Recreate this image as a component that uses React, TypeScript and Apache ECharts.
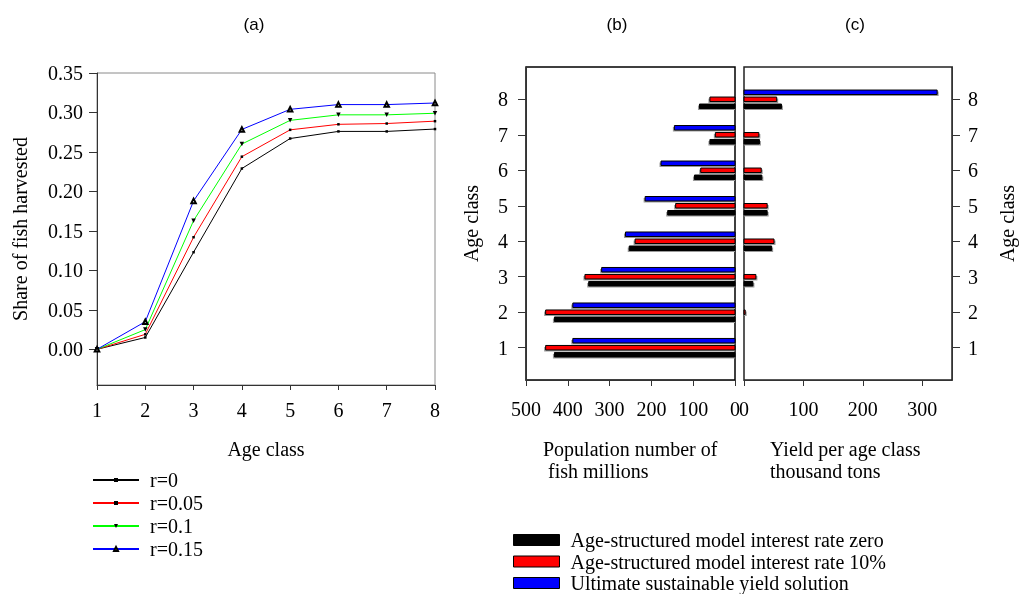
import React, { useEffect, useRef } from 'react';
import * as echarts from 'echarts';

// ---------- data ----------
const ageClasses = [1, 2, 3, 4, 5, 6, 7, 8];
const lineNames = ['r=0', 'r=0.05', 'r=0.1', 'r=0.15'];
const shareR0 = [0, 0.015, 0.123, 0.229, 0.267, 0.276, 0.276, 0.279];
const shareR005 = [0, 0.019, 0.142, 0.244, 0.278, 0.285, 0.286, 0.289];
const shareR01 = [0, 0.025, 0.163, 0.26, 0.29, 0.297, 0.297, 0.299];
const shareR015 = [0, 0.035, 0.188, 0.2785, 0.304, 0.31, 0.31, 0.312];
const shareTicks = [0, 0.05, 0.1, 0.15, 0.2, 0.25, 0.3, 0.35];

const barNames = [
  'Age-structured model interest rate zero',
  'Age-structured model interest rate 10%',
  'Ultimate sustainable yield solution',
];
// population number of fish, millions (panel b)
const popZero = [432, 432, 350, 253, 161, 97, 60, 85];
const pop10 = [453, 453, 359, 239, 142, 82, 47, 60];
const popUSY = [388, 388, 319, 262, 215, 177, 145, 0];
// yield per age class, thousand tons (panel c)
const yieldZero = [0, 0, 15, 46.5, 39, 30, 26, 63];
const yield10 = [0, 2, 20, 50.5, 39, 29, 25, 55];
const yieldUSY = [0, 0, 0, 0, 0, 0, 0, 325];
const yieldTicks = [0, 100, 200, 300];

const SERIF = 'Liberation Serif';
const SANS = 'Liberation Sans';
const AXIS = '#333';
const FRAME = '#8a8a8a';

function barRender(offset: number) {
  return (_params: any, api: any) => {
    const v = api.value(0);
    const c = api.value(1);
    if (!v) return null;
    const end = api.coord([v, c]);
    const start = api.coord([0, c]);
    const h = 4.5;
    const y = end[1] + offset - h / 2;
    const x0 = Math.min(start[0], end[0]);
    const w = Math.abs(end[0] - start[0]);
    const leftward = end[0] < start[0];
    return {
      type: 'group',
      children: [
        {
          type: 'rect',
          shape: { x: leftward ? x0 - 1.5 : x0, y: y + 1.5, width: w + 1.5, height: h },
          style: { fill: '#9a9a9a' },
        },
        {
          type: 'rect',
          shape: { x: x0, y, width: w, height: h },
          style: { fill: api.visual('color'), stroke: '#000', lineWidth: 1 },
        },
      ],
    };
  };
}

const labelStyle = { fontFamily: SERIF, fontSize: 20, color: '#000' };
const titleStyle = { fontFamily: SANS, fontSize: 17, fontWeight: 'normal', color: '#000' };

export default function App() {
  const ref = useRef<HTMLDivElement>(null);
  useEffect(() => {
    if (!ref.current) return;
    const chart = echarts.init(ref.current, undefined, { renderer: 'svg' });
    const barColors = ['#000000', '#ff0000', '#0000ff'];
    const offsets = [7, 0, -7];
    const popSets = [popZero, pop10, popUSY];
    const yieldSets = [yieldZero, yield10, yieldUSY];
    const barSeries: any[] = [];
    for (let s = 0; s < 3; s++) {
      barSeries.push({
        type: 'custom',
        name: barNames[s],
        xAxisIndex: 1,
        yAxisIndex: 1,
        itemStyle: { color: barColors[s] },
        renderItem: barRender(offsets[s]),
        encode: { x: 0, y: 1 },
        data: ageClasses.map((a, i) => [popSets[s][i], a]),
      });
      barSeries.push({
        type: 'custom',
        name: barNames[s],
        xAxisIndex: 2,
        yAxisIndex: 2,
        itemStyle: { color: barColors[s] },
        renderItem: barRender(offsets[s]),
        encode: { x: 0, y: 1 },
        data: ageClasses.map((a, i) => [yieldSets[s][i], a]),
      });
    }
    const lineColors = ['#000000', '#ff0000', '#00ff00', '#0000ff'];
    const lineSets = [shareR0, shareR005, shareR01, shareR015];
    const symbols = ['rect', 'rect', 'triangle', 'emptyTriangle'];
    const symbolSizes = [2.5, 2.5, 4.5, 4.5];
    const lineSeries = lineSets.map((arr, k) => ({
      type: 'line',
      name: lineNames[k],
      xAxisIndex: 0,
      yAxisIndex: 0,
      symbol: symbols[k],
      symbolSize: symbolSizes[k],
      symbolRotate: k === 2 ? 180 : 0,
      showAllSymbol: true,
      itemStyle: { color: '#000', borderColor: '#000', borderWidth: k === 3 ? 0.8 : 0 },
      lineStyle: { color: lineColors[k], width: 1 },
      data: ageClasses.map((a, i) => [a, arr[i]]),
    }));

    const catY = {
      type: 'value',
      min: 0.09,
      max: 8.91,
      splitLine: { show: false },
    };

    chart.setOption({
      animation: false,
      title: [
        { text: '(a)', left: 254, top: 16, textAlign: 'center', padding: 0, textStyle: titleStyle },
        { text: '(b)', left: 617, top: 16, textAlign: 'center', padding: 0, textStyle: titleStyle },
        { text: '(c)', left: 855, top: 16, textAlign: 'center', padding: 0, textStyle: titleStyle },
      ],
      legend: [
        {
          data: lineNames,
          orient: 'vertical',
          left: 92,
          top: 470,
          height: 120,
          padding: 0,
          itemWidth: 46,
          itemHeight: 5,
          itemGap: 3,
          selectedMode: false,
          textStyle: { ...labelStyle, padding: [0, 0, 0, 6] },
        },
        {
          data: barNames.map((n, i) => ({
            name: n,
            icon: 'rect',
            itemStyle: { color: barColors[i], borderColor: '#000', borderWidth: 1 },
          })),
          orient: 'vertical',
          left: 513,
          top: 530,
          height: 120,
          padding: 0,
          itemWidth: 46,
          itemHeight: 11,
          itemGap: 1.5,
          selectedMode: false,
          textStyle: { ...labelStyle, padding: [0, 0, 0, 6] },
        },
      ],
      grid: [
        { left: 97, top: 73, width: 338, height: 312, show: true, borderColor: FRAME, borderWidth: 1, outerBoundsMode: 'none' },
        { left: 526, top: 67, width: 209, height: 313, show: true, borderColor: '#000', borderWidth: 1.5, outerBoundsMode: 'none' },
        { left: 744, top: 67, width: 208, height: 313, show: true, borderColor: '#222', borderWidth: 1.5, outerBoundsMode: 'none' },
      ],
      xAxis: [
        {
          gridIndex: 0,
          type: 'value',
          min: 1,
          max: 8,
          interval: 1,
          splitLine: { show: false },
          axisLine: { onZero: false, lineStyle: { color: AXIS } },
          axisTick: { length: 5, lineStyle: { color: AXIS } },
          axisLabel: { ...labelStyle, margin: 15 },
          name: 'Age class',
          nameLocation: 'middle',
          nameGap: 54,
          nameTextStyle: labelStyle,
        },
        {
          gridIndex: 1,
          type: 'value',
          inverse: true,
          min: 0,
          max: 500,
          interval: 100,
          splitLine: { show: false },
          axisLine: { onZero: false, lineStyle: { color: AXIS } },
          axisTick: { length: 6, lineStyle: { color: AXIS } },
          axisLabel: { ...labelStyle, margin: 19 },
        },
        {
          gridIndex: 2,
          type: 'value',
          min: 0,
          max: 350,
          splitLine: { show: false },
          axisLine: { onZero: false, lineStyle: { color: AXIS } },
          axisTick: { length: 6, customValues: yieldTicks, lineStyle: { color: AXIS } },
          axisLabel: { ...labelStyle, margin: 19, customValues: yieldTicks },
        },
      ],
      yAxis: [
        {
          gridIndex: 0,
          type: 'value',
          min: -0.0452,
          max: 0.35,
          splitLine: { show: false },
          axisLine: { show: true, onZero: false, lineStyle: { color: AXIS } },
          axisTick: { show: true, length: 8, customValues: shareTicks, lineStyle: { color: AXIS } },
          axisLabel: { ...labelStyle, margin: 14, customValues: shareTicks, formatter: (v: number) => v.toFixed(2) },
          name: 'Share of fish harvested',
          nameLocation: 'middle',
          nameGap: 67,
          nameTextStyle: labelStyle,
        },
        {
          ...catY,
          gridIndex: 1,
          position: 'left',
          axisLine: { show: true, onZero: false, lineStyle: { color: AXIS } },
          axisTick: { show: true, length: 8, customValues: ageClasses, lineStyle: { color: AXIS } },
          axisLabel: { ...labelStyle, margin: 18, customValues: ageClasses },
          name: 'Age class',
          nameLocation: 'middle',
          nameGap: 45,
          nameTextStyle: labelStyle,
        },
        {
          ...catY,
          gridIndex: 2,
          position: 'right',
          axisLine: { show: true, onZero: false, lineStyle: { color: AXIS } },
          axisTick: { show: true, length: 8, customValues: ageClasses, lineStyle: { color: AXIS } },
          axisLabel: { ...labelStyle, margin: 16, customValues: ageClasses },
          name: 'Age class',
          nameLocation: 'middle',
          nameGap: 45,
          nameRotate: 90,
          nameTextStyle: labelStyle,
        },
      ],
      graphic: [
        {
          type: 'text',
          left: 543,
          top: 438,
          style: { text: 'Population number of\n fish millions', fontFamily: SERIF, fontSize: 20, lineHeight: 22, fill: '#000' },
        },
        {
          type: 'text',
          left: 770,
          top: 438,
          style: { text: 'Yield per age class\nthousand tons', fontFamily: SERIF, fontSize: 20, lineHeight: 22, fill: '#000' },
        },
      ],
      series: [...lineSeries, ...barSeries],
    });
    return () => chart.dispose();
  }, []);
  return <div ref={ref} style={{ position: 'fixed', left: 0, top: 0, width: 1019, height: 594 }} />;
}
